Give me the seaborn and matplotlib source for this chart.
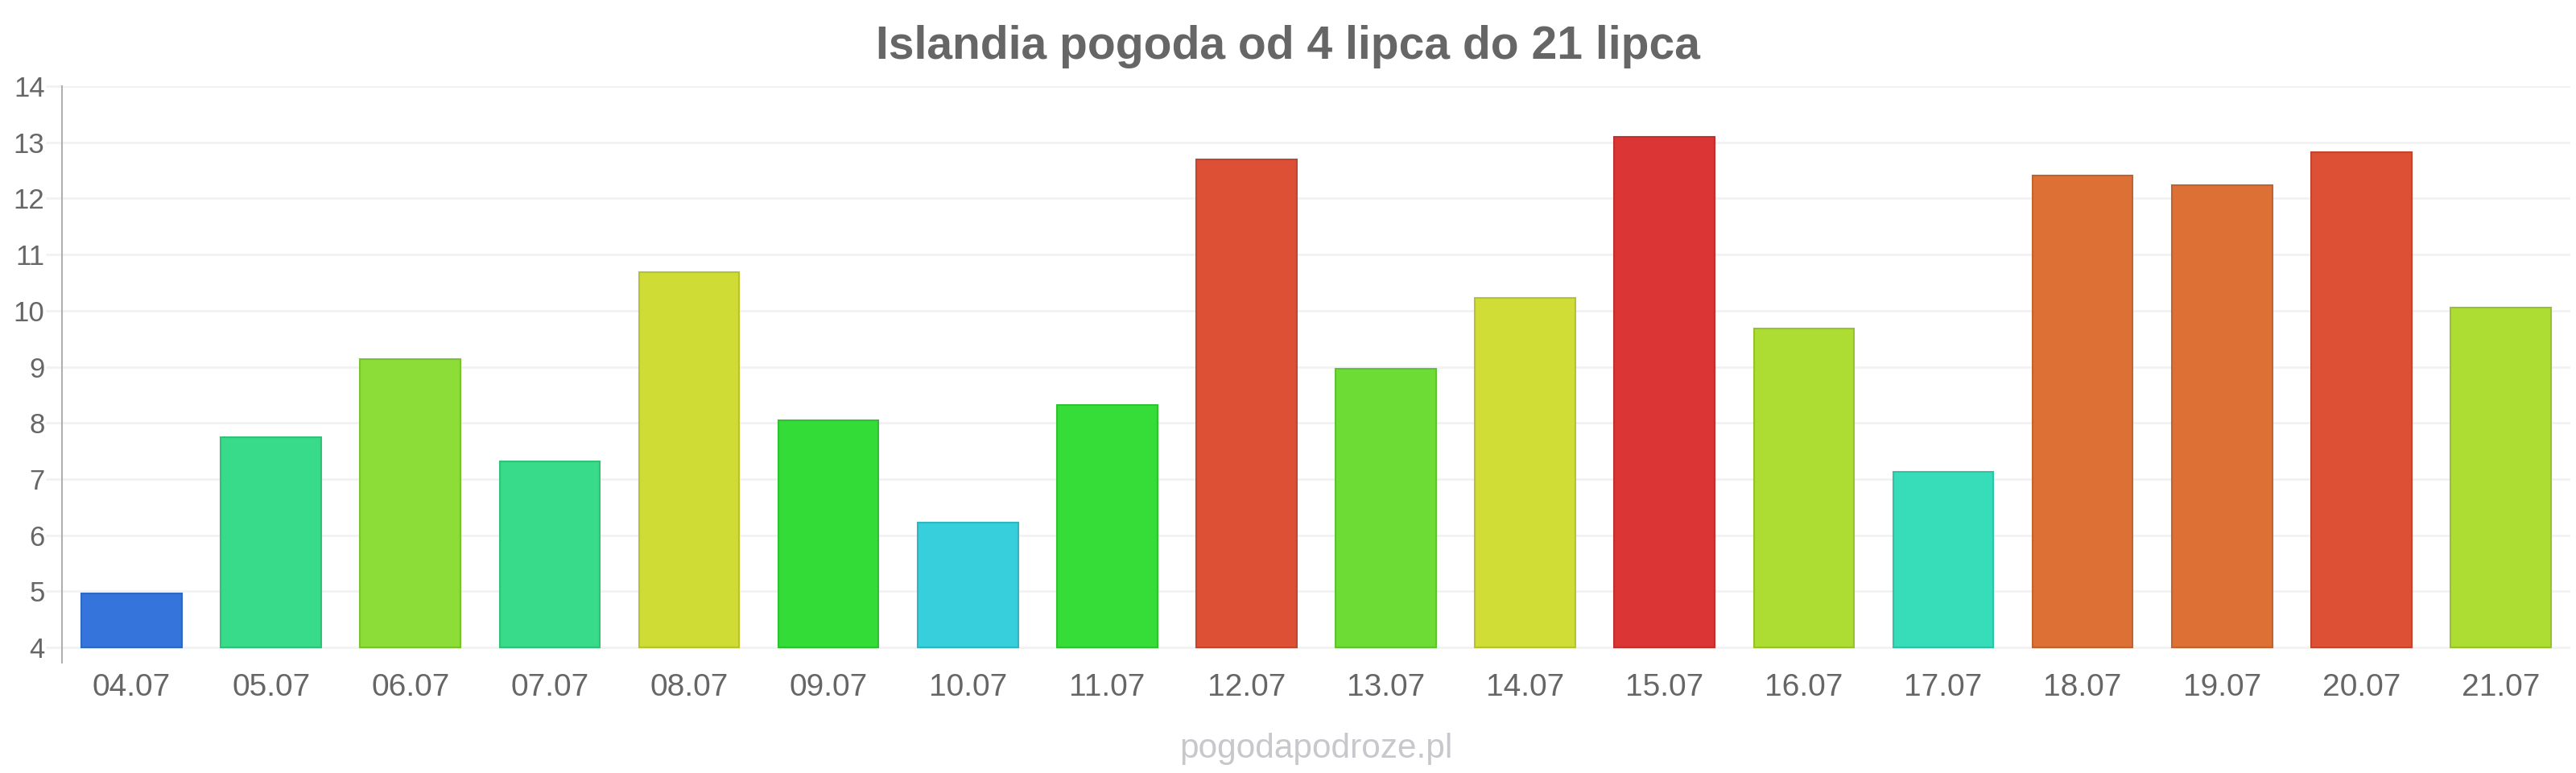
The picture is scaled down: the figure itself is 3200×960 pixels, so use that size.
import matplotlib
matplotlib.use("Agg")
import matplotlib.pyplot as plt
import matplotlib.colors as mcolors
import seaborn as sns
import pandas as pd

dates = ["04.07", "05.07", "06.07", "07.07", "08.07", "09.07", "10.07", "11.07", "12.07",
         "13.07", "14.07", "15.07", "16.07", "17.07", "18.07", "19.07", "20.07", "21.07"]
temps = [4.96, 7.74, 9.14, 7.32, 10.68, 8.04, 6.22, 8.32, 12.69,
         8.96, 10.22, 13.10, 9.68, 7.13, 12.41, 12.23, 12.83, 10.05]
bar_colors = ["#3575DB", "#38DB8A", "#8CDD37", "#38DB8A", "#CFDC35", "#34DC38", "#36CFDB", "#36DD38", "#DD5035",
              "#6DDD36", "#CFDD36", "#DB3535", "#ADDD33", "#36DDB8", "#DD7035", "#DD7035", "#DD5035", "#ADDD33"]
yticks = [4, 5, 6, 7, 8, 9, 10, 11, 12, 13, 14]
title = "Islandia pogoda od 4 lipca do 21 lipca"
watermark = "pogodapodroze.pl"
base = 4

sns.set_theme(style="white")
plt.rcParams["font.family"] = ["Liberation Sans", "DejaVu Sans"]

df = pd.DataFrame({"date": dates, "temp": temps})

fig = plt.figure(figsize=(32, 9.6), dpi=100)
ax = fig.add_axes([77 / 3200, 1 - 823 / 960, (3193 - 77) / 3200, (823 - 107) / 960])

sns.barplot(data=df, x="date", y="temp", hue="date", palette=bar_colors, legend=False,
            width=0.72, ax=ax, saturation=1, zorder=3)

for p, v, c in zip(ax.patches, temps, bar_colors):
    p.set_y(base)
    p.set_height(v - base)
    rgb = mcolors.to_rgb(c)
    p.set_edgecolor(tuple(x * 0.88 for x in rgb))
    p.set_linewidth(1.5)

ax.set_xlim(-0.5, len(dates) - 0.5)
ax.set_ylim(base - 19 / 69.7, 14)
ax.set_yticks(yticks)
ax.set_yticklabels([str(t) for t in yticks])
ax.yaxis.grid(True, color="#f2f2f2", linewidth=2, zorder=0)
ax.xaxis.grid(False)
ax.set_xlabel("")
ax.set_ylabel("")

for s in ["top", "right", "bottom"]:
    ax.spines[s].set_visible(False)
ax.spines["left"].set_color("#b0b0b0")
ax.spines["left"].set_linewidth(1.5)

ax.tick_params(axis="y", length=14.4, width=2, color="#f2f2f2", pad=1,
               labelsize=25, labelcolor="#666666", left=True)
ax.tick_params(axis="x", length=0, pad=9, labelsize=28, labelcolor="#666666")

fig.text(0.5, 1 - 58 / 960, title, ha="center", va="center", fontsize=41,
         fontweight="bold", color="#666666")
fig.text((77 + 3193) / 2 / 3200, 1 - 930 / 960, watermark, ha="center", va="center",
         fontsize=30.5, color="#c8c8cc")

fig.savefig("out.png", dpi=100, facecolor="white")
